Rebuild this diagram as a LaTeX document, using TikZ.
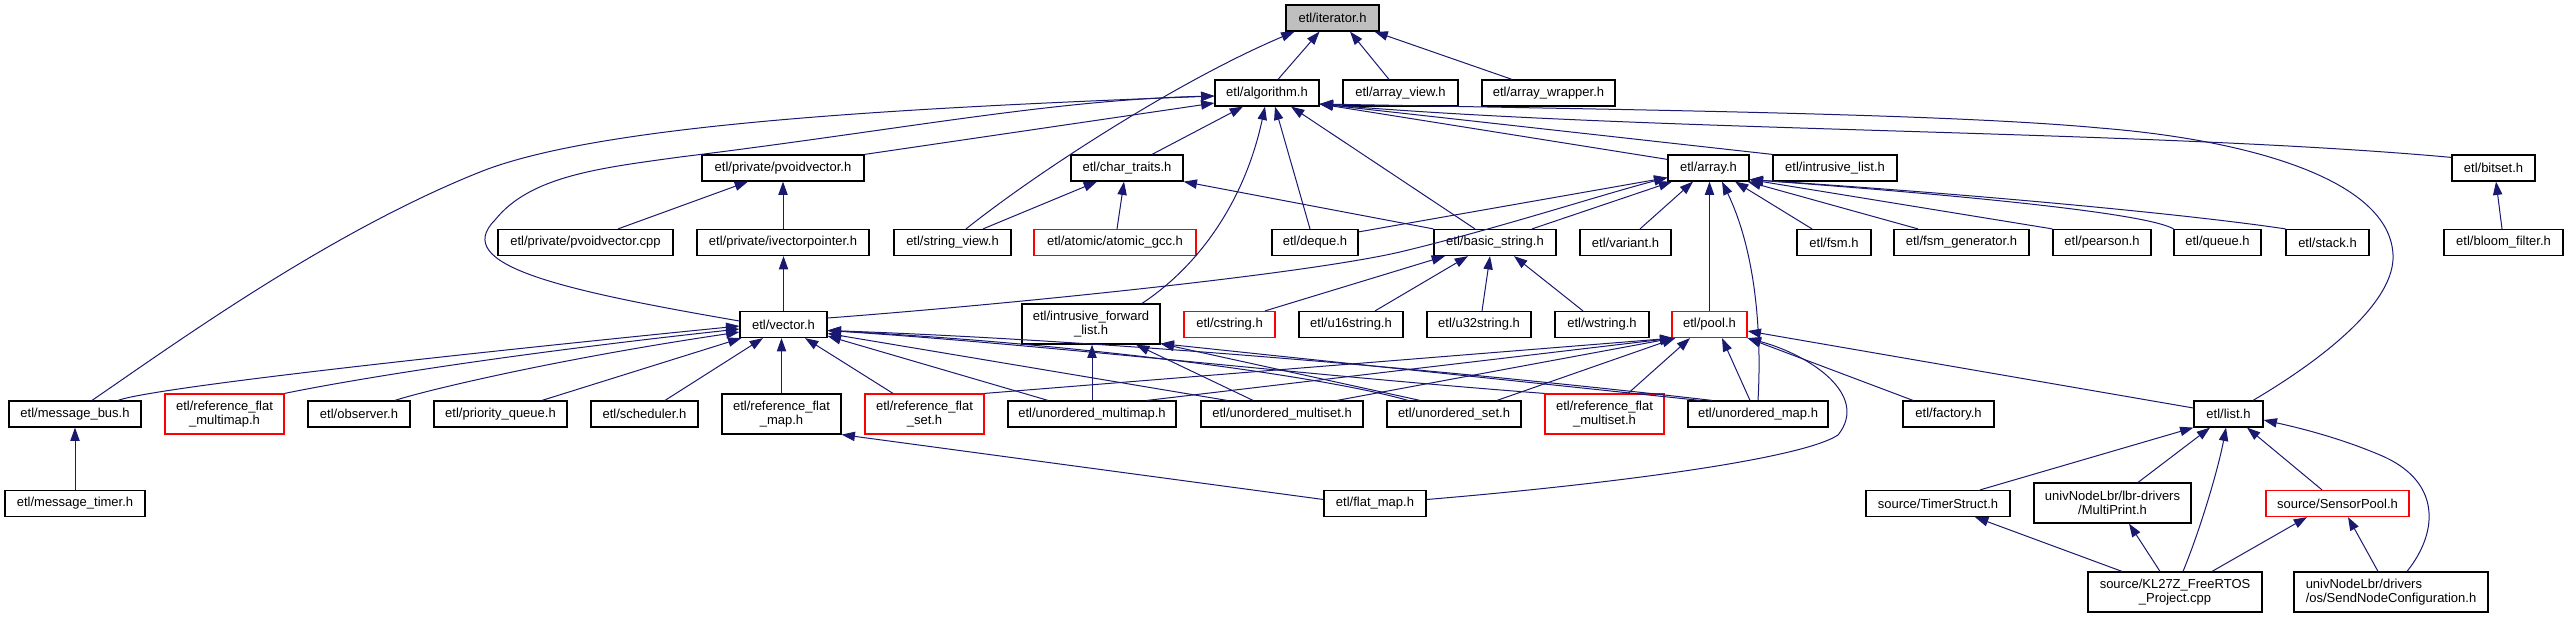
\documentclass[tikz,border=0pt]{standalone}
\usepackage{fontspec}
\setmainfont{Liberation Sans}
\usetikzlibrary{arrows.meta,calc}
\definecolor{edgec}{HTML}{191970}
\definecolor{redb}{HTML}{FF0000}
\definecolor{grey75}{HTML}{BFBFBF}
\begin{document}
\begin{tikzpicture}[x=0.75pt,y=-0.75pt,
  nd/.style={draw=black,line width=0.9pt,fill=white,inner sep=0pt,font=\fontsize{9.75pt}{10.6pt}\selectfont,align=center},
  sz/.style 2 args={minimum width=#1*0.75pt,minimum height=#2*0.75pt},
  rd/.style={draw=redb},
  lnk/.style={draw=edgec,line width=0.75pt,-{Triangle[length=10pt,width=7pt]}}]
\useasboundingbox (0,0) rectangle (2568,619);
% row 1-3
\node[nd,sz={93}{26},fill=grey75] (iter) at (1332.5,18) {etl/iterator.h};
\node[nd,sz={104}{26}] (algo) at (1267,93) {etl/algorithm.h};
\node[nd,sz={115}{26}] (arrview) at (1400.5,93) {etl/array\_view.h};
\node[nd,sz={133}{26}] (arrwrap) at (1548.5,93) {etl/array\_wrapper.h};
\node[nd,sz={162}{26}] (pvv) at (783,168) {etl/private/pvoidvector.h};
\node[nd,sz={112}{26}] (chartr) at (1127,168) {etl/char\_traits.h};
\node[nd,sz={81}{26}] (array) at (1708.5,168) {etl/array.h};
\node[nd,sz={124}{26}] (ilist) at (1835,168) {etl/intrusive\_list.h};
\node[nd,sz={83}{26}] (bitset) at (2493.5,168) {etl/bitset.h};
% row 4
\node[nd,sz={175}{26}] (pvvcpp) at (585.5,242.5) {etl/private/pvoidvector.cpp};
\node[nd,sz={172}{26}] (ivp) at (783,242.5) {etl/private/ivectorpointer.h};
\node[nd,sz={117}{26}] (sview) at (952.5,242.5) {etl/string\_view.h};
\node[nd,rd,sz={162}{26}] (atomic) at (1115,242.5) {etl/atomic/atomic\_gcc.h};
\node[nd,sz={86}{26}] (deque) at (1315,242.5) {etl/deque.h};
\node[nd,sz={122}{26}] (bstring) at (1495,242.5) {etl/basic\_string.h};
\node[nd,sz={91}{26}] (variant) at (1625.5,242.5) {etl/variant.h};
\node[nd,sz={74}{26}] (fsm) at (1834,242.5) {etl/fsm.h};
\node[nd,sz={135}{26}] (fsmgen) at (1961.5,242.5) {etl/fsm\_generator.h};
\node[nd,sz={98}{26}] (pearson) at (2102,242.5) {etl/pearson.h};
\node[nd,sz={87}{26}] (queue) at (2217.5,242.5) {etl/queue.h};
\node[nd,sz={83}{26}] (stack) at (2327.5,242.5) {etl/stack.h};
\node[nd,sz={119}{26}] (bloom) at (2503.5,242.5) {etl/bloom\_filter.h};
% row 5
\node[nd,sz={87}{26}] (vector) at (783.5,324.5) {etl/vector.h};
\node[nd,sz={138}{40}] (ifl) at (1091,324) {etl/intrusive\_forward\\\_list.h};
\node[nd,rd,sz={91}{26}] (cstring) at (1229.5,324.5) {etl/cstring.h};
\node[nd,sz={104}{26}] (u16) at (1351,324.5) {etl/u16string.h};
\node[nd,sz={104}{26}] (u32) at (1479,324.5) {etl/u32string.h};
\node[nd,sz={94}{26}] (wstring) at (1602,324.5) {etl/wstring.h};
\node[nd,rd,sz={75}{26}] (pool) at (1709.5,324.5) {etl/pool.h};
% row 6
\node[nd,sz={132}{26}] (mbus) at (75,414) {etl/message\_bus.h};
\node[nd,rd,sz={119}{40}] (rfmm) at (224.5,414) {etl/reference\_flat\\\_multimap.h};
\node[nd,sz={102}{26}] (observer) at (359,414) {etl/observer.h};
\node[nd,sz={133}{26}] (pq) at (500.5,414) {etl/priority\_queue.h};
\node[nd,sz={107}{26}] (sched) at (644.5,414) {etl/scheduler.h};
\node[nd,sz={119}{40}] (rfmap) at (781.5,414) {etl/reference\_flat\\\_map.h};
\node[nd,rd,sz={119}{40}] (rfset) at (924.5,414) {etl/reference\_flat\\\_set.h};
\node[nd,sz={168}{26}] (umm) at (1092,414) {etl/unordered\_multimap.h};
\node[nd,sz={162}{26}] (ums) at (1282,414) {etl/unordered\_multiset.h};
\node[nd,sz={134}{26}] (uset) at (1454,414) {etl/unordered\_set.h};
\node[nd,rd,sz={119}{40}] (rfms) at (1604.5,414) {etl/reference\_flat\\\_multiset.h};
\node[nd,sz={140}{26}] (umap) at (1758,414) {etl/unordered\_map.h};
\node[nd,sz={91}{26}] (factory) at (1948.5,414) {etl/factory.h};
\node[nd,sz={69}{26}] (list) at (2228.5,414) {etl/list.h};
% row 7-8
\node[nd,sz={140}{26}] (mtimer) at (75,503.5) {etl/message\_timer.h};
\node[nd,sz={102}{26}] (flatmap) at (1375,503.5) {etl/flat\_map.h};
\node[nd,sz={144}{26}] (timer) at (1938,503.5) {source/TimerStruct.h};
\node[nd,sz={157}{40}] (mprint) at (2112.5,503) {univNodeLbr/lbr-drivers\\/MultiPrint.h};
\node[nd,rd,sz={143}{26}] (spool) at (2337.5,503.5) {source/SensorPool.h};
\node[nd,sz={174}{40}] (kl27z) at (2175,592) {source/KL27Z\_FreeRTOS\\\_Project.cpp};
\node[nd,sz={194}{40},align=left] (sendnode) at (2391,592) {univNodeLbr/drivers\\/os/SendNodeConfiguration.h};
% --- edges to iterator
\draw[lnk] ($(algo.north)+(11,0)$) -- ($(iter.south)+(-13,0)$);
\draw[lnk] ($(arrview.north)+(-11.5,0)$) -- ($(iter.south)+(17.5,0)$);
\draw[lnk] ($(arrwrap.north)+(-36.5,0)$) -- ($(iter.south)+(42,0)$);
\draw[lnk] ($(sview.north)+(13.5,0)$) .. controls (1040,170) and (1180,80) .. ($(iter.south)+(-38,0)$);
% --- edges to algorithm
\draw[lnk] ($(mbus.north)+(17,0)$) .. controls (180,340) and (330,232) .. (480,172) .. controls (600,124) and (900,108) .. ($(algo.west)+(0,3)$);
\draw[lnk] ($(vector.west)+(0,-3.5)$) .. controls (560,290) and (450,265) .. (495,220) .. controls (530,176) and (600,168) .. (680,157) .. controls (900,130) and (1050,100) .. ($(algo.west)+(0,3)$);
\draw[lnk] (pvv.north east) -- ($(algo.west)+(0,10)$);
\draw[lnk] ($(chartr.north)+(25,0)$) -- ($(algo.south)+(-24,0)$);
\draw[lnk] ($(ifl.north)+(51,0)$) .. controls (1200,265) and (1245,200) .. ($(algo.south)+(-2,0)$);
\draw[lnk] ($(deque.north)+(-5,0)$) -- ($(algo.south)+(8,0)$);
\draw[lnk] ($(bstring.north)+(-20,0)$) -- ($(algo.south)+(24,0)$);
\draw[lnk] ($(array.north west)+(0,5)$) -- ($(algo.east)+(0,11)$);
\draw[lnk] (ilist.north west) -- ($(algo.east)+(0,11)$);
\draw[lnk] ($(bitset.north west)+(0,3)$) .. controls (2150,130) and (1650,132) .. ($(algo.east)+(0,11)$);
\draw[lnk] ($(list.north)+(24.5,0)$) .. controls (2330,355) and (2395,300) .. (2393,255) .. controls (2390,180) and (2250,140) .. (2100,128) .. controls (1950,114) and (1650,110) .. ($(algo.east)+(0,11)$);
% --- edges to vector
\draw[lnk] ($(mbus.north)+(43,0)$) .. controls (140,392) and (300,370) .. ($(vector.west)+(0,1.5)$);
\draw[lnk] (rfmm.north east) .. controls (350,380) and (500,355) .. ($(vector.west)+(0,4.5)$);
\draw[lnk] ($(observer.north)+(36,0)$) .. controls (420,392) and (550,360) .. ($(vector.west)+(0,7.5)$);
\draw[lnk] ($(pq.north)+(41.5,0)$) -- ($(vector.south west)+(2,0)$);
\draw[lnk] ($(sched.north)+(20.5,0)$) -- ($(vector.south)+(-20.5,0)$);
\draw[lnk] (rfmap.north) -- (rfmap.north |- vector.south);
\draw[lnk] ($(rfset.north)+(-31.5,0)$) -- ($(vector.south)+(21.5,0)$);
\draw[lnk] ($(umm.north)+(-44,0)$) -- ($(vector.east)+(0,11.5)$);
\draw[lnk] ($(ums.north)+(-55,0)$) -- ($(vector.east)+(0,9)$);
\draw[lnk] ($(uset.north)+(-46,0)$) .. controls (1330,378) and (1100,345) .. ($(vector.east)+(0,6)$);
\draw[lnk] (rfms.north west) .. controls (1300,375) and (1050,345) .. ($(vector.east)+(0,6)$);
\draw[lnk] ($(umap.north)+(-46,0)$) .. controls (1450,370) and (1100,340) .. ($(vector.east)+(0,6)$);
% --- edges to array
\draw[lnk] ($(vector.east)+(0,-6.5)$) .. controls (1000,305) and (1300,275) .. (1400,252) .. controls (1500,228) and (1600,195) .. ($(array.south west)+(0,-4)$);
\draw[lnk] ($(deque.north east)+(0,3)$) -- ($(array.south west)+(0,-4)$);
\draw[lnk] ($(bstring.north)+(37,0)$) -- ($(array.south)+(-36.5,0)$);
\draw[lnk] ($(variant.north)+(14.5,0)$) -- ($(array.south)+(-15.5,0)$);
\draw[lnk] (pool.north) -- (pool.north |- array.south);
\draw[lnk] (umap.north) .. controls (1762,330) and (1755,250) .. ($(array.south)+(13.5,0)$);
\draw[lnk] ($(fsm.north)+(-22,0)$) -- ($(array.south)+(26.5,0)$);
\draw[lnk] ($(fsmgen.north)+(-43.5,0)$) -- ($(array.south east)+(-2,0)$);
\draw[lnk] (pearson.north west) -- ($(array.south east)+(0,-2)$);
\draw[lnk] ($(queue.north)+(-44,0)$) .. controls (2150,215) and (2000,198) .. ($(array.south east)+(0,-2)$);
\draw[lnk] ($(stack.north)+(-42,0)$) .. controls (2200,216) and (2000,196) .. ($(array.south east)+(0,-2)$);
% --- basic_string, char_traits, pvoidvector
\draw[lnk] ($(cstring.north)+(35.5,0)$) -- ($(bstring.south)+(-50,0)$);
\draw[lnk] ($(u16.north)+(24,0)$) -- ($(bstring.south)+(-27,0)$);
\draw[lnk] ($(u32.north)+(3,0)$) -- ($(bstring.south)+(-5,0)$);
\draw[lnk] ($(wstring.north)+(-19,0)$) -- ($(bstring.south)+(19,0)$);
\draw[lnk] (bstring.north west) -- (chartr.south east);
\draw[lnk] ($(sview.north)+(30.5,0)$) -- ($(chartr.south)+(-30,0)$);
\draw[lnk] ($(atomic.north)+(2,0)$) -- ($(chartr.south)+(-3,0)$);
\draw[lnk] ($(pvvcpp.north)+(32.5,0)$) -- ($(pvv.south)+(-35,0)$);
\draw[lnk] (ivp.north) -- (pvv.south);
\draw[lnk] (vector.north) -- (vector.north |- ivp.south);
\draw[lnk] (mtimer.north) -- (mbus.south);
% --- intrusive_forward_list
\draw[lnk] (umm.north) -- (umm.north |- ifl.south);
\draw[lnk] ($(ums.north)+(-29,0)$) -- ($(ifl.south)+(45,0)$);
\draw[lnk] ($(uset.north)+(-34,0)$) -- ($(ifl.south east)+(0,-1)$);
\draw[lnk] ($(umap.north)+(-58,0)$) -- ($(ifl.south east)+(0,-1)$);
% --- pool
\draw[lnk] (rfset.north east) -- ($(pool.south west)+(2,0)$);
\draw[lnk] ($(umm.north)+(55,0)$) -- ($(pool.south west)+(2,0)$);
\draw[lnk] ($(ums.north)+(55,0)$) -- ($(pool.south west)+(2,0)$);
\draw[lnk] ($(uset.north)+(43,0)$) -- ($(pool.south west)+(4,0)$);
\draw[lnk] ($(rfms.north)+(23.5,0)$) -- ($(pool.south)+(-19.5,0)$);
\draw[lnk] ($(umap.north)+(-8,0)$) -- ($(pool.south)+(12.5,0)$);
\draw[lnk] ($(flatmap.east)+(0,-4)$) .. controls (1600,485) and (1800,460) .. (1838,435) .. controls (1870,395) and (1810,355) .. (pool.south east);
\draw[lnk] ($(factory.north)+(-35.5,0)$) -- (pool.south east);
\draw[lnk] ($(list.west)+(0,-6)$) -- ($(pool.east)+(0,6.5)$);
\draw[lnk] ($(flatmap.west)+(0,-4)$) -- (rfmap.south east);
% --- list and bottom rows
\draw[lnk] ($(timer.north)+(42,0)$) -- (list.south west);
\draw[lnk] ($(mprint.north)+(25.5,0)$) -- ($(list.south)+(-18.5,0)$);
\draw[lnk] ($(kl27z.north)+(8,0)$) .. controls (2200,530) and (2218,470) .. ($(list.south)+(-2.5,0)$);
\draw[lnk] ($(spool.north)+(-15.5,0)$) -- ($(list.south)+(18.5,0)$);
\draw[lnk] ($(sendnode.north)+(16,0)$) .. controls (2440,530) and (2440,480) .. (2380,455) .. controls (2340,438) and (2300,428) .. ($(list.east)+(0,6)$);
\draw[lnk] ($(kl27z.north)+(-53,0)$) -- ($(timer.south)+(37,0)$);
\draw[lnk] ($(kl27z.north)+(-15,0)$) -- ($(mprint.south)+(16.5,0)$);
\draw[lnk] ($(kl27z.north)+(37,0)$) -- ($(spool.south)+(-30.5,0)$);
\draw[lnk] ($(sendnode.north)+(-13,0)$) -- ($(spool.south)+(10.5,0)$);
\draw[lnk] ($(bloom.north)+(-1.5,0)$) -- ($(bitset.south)+(2.5,0)$);
\end{tikzpicture}
\end{document}
